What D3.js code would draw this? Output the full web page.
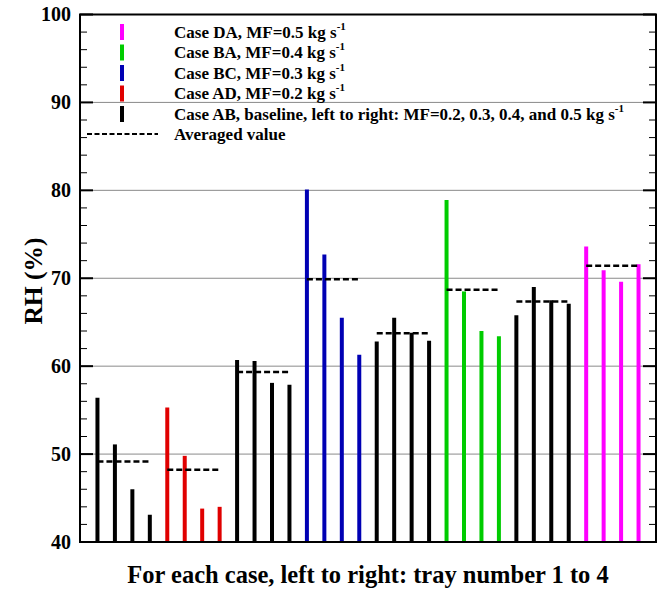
<!DOCTYPE html>
<html>
<head>
<meta charset="utf-8">
<script src="https://cdn.jsdelivr.net/npm/d3@7/dist/d3.min.js"></script>
<style>
  html, body { margin: 0; padding: 0; background: #fff; }
  svg { display: block; font-family: "Liberation Serif", "Times New Roman", serif; font-weight: bold; }
</style>
</head>
<body>
<svg id="chart" width="664" height="592"></svg>
<script>
// Relative humidity per tray (1..4) for each case, grouped left to right
const groupCases = ["AB", "AD", "AB", "BC", "AB", "BA", "AB", "DA"];
const groupValues = [
  [56.4, 51.1, 46.0, 43.1],   // AB, MF=0.2
  [55.3, 49.8, 43.8, 44.0],   // AD, MF=0.2
  [60.7, 60.6, 58.1, 57.9],   // AB, MF=0.3
  [80.1, 72.7, 65.5, 61.3],   // BC, MF=0.3
  [62.8, 65.5, 63.8, 62.9],   // AB, MF=0.4
  [78.9, 68.5, 64.0, 63.4],   // BA, MF=0.4
  [65.8, 69.0, 67.5, 67.1],   // AB, MF=0.5
  [73.6, 70.9, 69.6, 71.6]    // DA, MF=0.5
];
const yTicks = [40, 50, 60, 70, 80, 90, 100];
const caseColors = { AB: "#000000", AD: "#e00000", BC: "#0000b4", BA: "#00cc00", DA: "#ff00ff" };

// Legend rows (top to bottom)
const legendCases = ["DA", "BA", "BC", "AD", "AB"];
const legendLabels = [
  "Case DA, MF=0.5 kg s",
  "Case BA, MF=0.4 kg s",
  "Case BC, MF=0.3 kg s",
  "Case AD, MF=0.2 kg s",
  "Case AB, baseline, left to right: MF=0.2, 0.3, 0.4, and 0.5 kg s"
];
const averageLabel = "Averaged value";

const svg = d3.select("#chart");
const plotLeft = 80, plotRight = 656, plotTop = 14.5, plotBottom = 542;
const nSlots = groupValues.length * 4 + 1;

const x = d3.scaleLinear().domain([0, nSlots]).range([plotLeft, plotRight]);
const y = d3.scaleLinear().domain([40, 100]).range([plotBottom, plotTop]);

// Horizontal grid lines
svg.append("g")
  .selectAll("line")
  .data(yTicks.filter(t => t > 40 && t < 100))
  .join("line")
  .attr("x1", plotLeft).attr("x2", plotRight)
  .attr("y1", d => y(d)).attr("y2", d => y(d))
  .attr("stroke", "#8a8a8a").attr("stroke-width", 1);

// Bars: one thin vertical bar per tray
const bars = [];
groupValues.forEach((vals, g) => {
  vals.forEach((v, t) => bars.push({ slot: g * 4 + t + 1, value: v, color: caseColors[groupCases[g]] }));
});
svg.append("g")
  .selectAll("line")
  .data(bars)
  .join("line")
  .attr("x1", d => x(d.slot)).attr("x2", d => x(d.slot))
  .attr("y1", y(40)).attr("y2", d => y(d.value))
  .attr("stroke", d => d.color).attr("stroke-width", 4);

// Group averages as dashed segments spanning trays 1..4
svg.append("g")
  .selectAll("line")
  .data(groupValues.map((vals, g) => ({ g, avg: d3.mean(vals) })))
  .join("line")
  .attr("x1", d => x(d.g * 4 + 1)).attr("x2", d => x(d.g * 4 + 4) + 1)
  .attr("y1", d => y(d.avg)).attr("y2", d => y(d.avg))
  .attr("stroke", "#000").attr("stroke-width", 2.5)
  .attr("stroke-dasharray", "6,3");

// Frame
svg.append("rect")
  .attr("x", plotLeft).attr("y", plotTop)
  .attr("width", plotRight - plotLeft).attr("height", plotBottom - plotTop)
  .attr("fill", "none").attr("stroke", "#000").attr("stroke-width", 2);

// Inward ticks on left and right axes
const minor = d3.range(40, 100.01, 2);
const axisTicks = svg.append("g").attr("stroke", "#000");
minor.forEach(v => {
  const major = v % 10 === 0;
  const len = major ? 13 : 7;
  axisTicks.append("line")
    .attr("x1", plotLeft).attr("x2", plotLeft + len)
    .attr("y1", y(v)).attr("y2", y(v))
    .attr("stroke-width", major ? 2 : 1);
  axisTicks.append("line")
    .attr("x1", plotRight).attr("x2", plotRight - len)
    .attr("y1", y(v)).attr("y2", y(v))
    .attr("stroke-width", major ? 2 : 1);
});

// Y tick labels
svg.append("g")
  .selectAll("text")
  .data(yTicks)
  .join("text")
  .attr("x", plotLeft - 9).attr("y", d => y(d))
  .attr("dy", "0.34em")
  .attr("text-anchor", "end")
  .attr("font-size", 20)
  .text(d => d);

// Axis titles
svg.append("text")
  .attr("transform", "translate(42,281) rotate(-90)")
  .attr("text-anchor", "middle")
  .attr("font-size", 25.5)
  .text("RH (%)");

svg.append("text")
  .attr("x", 368).attr("y", 583)
  .attr("text-anchor", "middle")
  .attr("font-size", 24.5)
  .text("For each case, left to right: tray number 1 to 4");

// Legend
const lg = svg.append("g");
const rowY = i => 32 + i * 20.5;
legendCases.forEach((c, i) => {
  lg.append("line")
    .attr("x1", 122).attr("x2", 122)
    .attr("y1", rowY(i) - 8).attr("y2", rowY(i) + 8)
    .attr("stroke", caseColors[c]).attr("stroke-width", 4);
  const t = lg.append("text")
    .attr("x", 174).attr("y", rowY(i) + 5.5)
    .attr("font-size", 17);
  t.append("tspan").text(legendLabels[i]);
  t.append("tspan").attr("font-size", 11).attr("dy", -8).text("-1");
});
lg.append("line")
  .attr("x1", 87).attr("x2", 158)
  .attr("y1", 134).attr("y2", 134)
  .attr("stroke", "#000").attr("stroke-width", 2)
  .attr("stroke-dasharray", "5,2.5");
lg.append("text")
  .attr("x", 174).attr("y", 134 + 5.5)
  .attr("font-size", 17)
  .text(averageLabel);
</script>
</body>
</html>
